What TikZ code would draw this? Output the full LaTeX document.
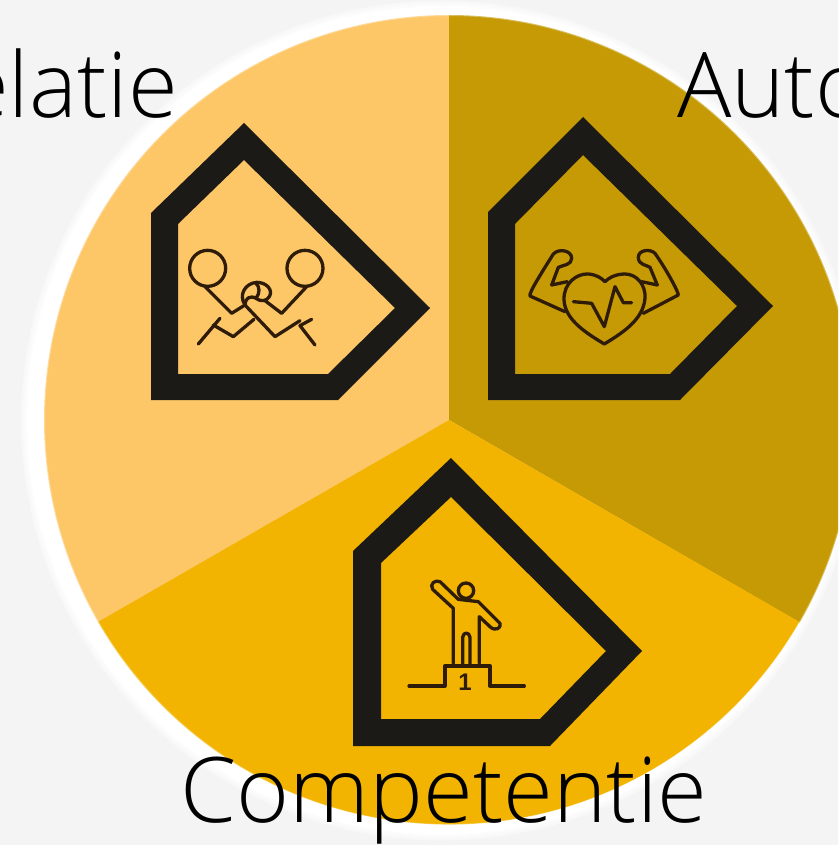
\documentclass[tikz,border=0pt]{standalone}
\usepackage{fontspec}
\setmainfont{Open Sans}[UprightFont={* Light}]
\newfontfamily\iconfont{Liberation Sans}
\definecolor{bg}{HTML}{F4F4F4}
\definecolor{pale}{HTML}{FDC768}
\definecolor{darkgold}{HTML}{C59A05}
\definecolor{midgold}{HTML}{F2B400}
\definecolor{frame}{HTML}{1C1A17}
\definecolor{ink}{HTML}{2E1C08}
\tikzset{
  badge/.style={fill=frame,even odd rule},
  iconline/.style={draw=ink,line width=3.3pt,line join=round,line cap=round},
  word/.style={font=\fontsize{90.5}{90.5}\selectfont,text=black,inner sep=0pt},
  halo/.style={fill=white,opacity=.4}
}
\begin{document}
\begin{tikzpicture}[x=1pt,y=-1pt]
\useasboundingbox (0,0) rectangle (838,845);
\clip (0,0) rectangle (838,845);
\fill[bg] (0,0) rectangle (838,845);
\coordinate (c) at (449,420);
% soft white halo
\fill[halo] (441,420.5) circle (420);
\fill[halo] (441,420.5) circle (418);
\fill[halo] (441,420.5) circle (416);
\fill[white] (441,420.5) circle (414);
% wedges
\fill[pale] (c) -- (449,15) arc[start angle=-90,end angle=-210,radius=405] -- cycle;
\fill[darkgold] (c) -- (449,15) arc[start angle=-90,end angle=30,radius=405] -- cycle;
\fill[midgold] (c) -- (98,622) arc[start angle=150,end angle=30,radius=405] -- cycle;
% soft edge of the disc
\draw[white,opacity=.35,line width=2pt] (c) circle (405);
% badges
\fill[badge] (244,123)--(430,308)--(338,400)--(151,400)--(151,213)--cycle
  (244,160)--(395,308)--(328,374)--(178,374)--(178,224)--cycle;
\fill[badge] (583,117)--(773,306)--(680,400)--(488,400)--(488,212)--cycle
  (583,155)--(737,306)--(670,374)--(515,374)--(515,224)--cycle;
\fill[badge] (451,458)--(642,651)--(550,746)--(353,746)--(353,551)--cycle
  (451,497)--(606,651)--(540,719)--(381,719)--(381,563)--cycle;
% wrestling icon
\begin{scope}[shift={(170,230)},x=.3333pt,y=-.3333pt,iconline]
\draw (113,115) circle[radius=54];
\draw (405,115) circle[radius=54];
\draw (105,170) -- (185,250) -- (225,225);
\draw (410,170) -- (335,250) -- (285,212);
\draw (225,225) .. controls (205,195) and (225,160) .. (260,157) .. controls (290,157) and (310,180) .. (298,200) .. controls (290,215) and (270,215) .. (258,205);
\draw (258,160) .. controls (270,170) and (270,190) .. (258,205) .. controls (240,195) and (225,205) .. (225,225) -- (315,320) -- (390,272);
\draw (85,342) -- (150,265);
\draw (130,285) -- (190,320) -- (252,268);
\draw (425,268) -- (390,287) -- (435,345);
\end{scope}
% muscle heart icon
\begin{scope}[shift={(510,230)},x=.3333pt,y=-.3333pt,iconline]
\draw (283,342) .. controls (230,310) and (165,270) .. (162,210) .. controls (160,160) and (200,130) .. (235,132) .. controls (260,134) and (275,145) .. (285,155) .. controls (295,145) and (315,132) .. (345,132) .. controls (380,132) and (408,165) .. (405,205) .. controls (400,270) and (335,310) .. (283,342) -- cycle;
\draw (190,215) -- (245,220) -- (283,290) -- (315,170) -- (340,218) -- (365,218);
\draw (165,245) -- (60,198) .. controls (55,190) and (100,120) .. (130,72) .. controls (145,55) and (185,60) .. (185,85) .. controls (185,105) and (160,105) .. (145,112) -- (125,165) -- (172,155);
\draw (400,250) -- (505,195) .. controls (505,185) and (470,120) .. (435,70) .. controls (420,55) and (385,60) .. (385,82) .. controls (385,105) and (410,105) .. (420,112) -- (442,165) -- (395,155);
\end{scope}
% podium icon
\begin{scope}[shift={(390,560)},x=.3333pt,y=-.3333pt,iconline]
\draw (228,92) circle[radius=23];
\draw (190,310) -- (190,145) -- (128,88) .. controls (118,72) and (135,58) .. (150,65) -- (205,118) -- (265,125) -- (330,190) .. controls (335,205) and (315,215) .. (300,200) -- (268,170) -- (268,310);
\draw (218,315) -- (218,232) .. controls (220,215) and (238,215) .. (240,232) -- (240,315);
\draw (57,378) -- (165,378) -- (165,318) -- (300,318) -- (300,378) -- (403,378);
\node[inner sep=0pt,text=ink,font=\iconfont\fontsize{24}{24}\selectfont\bfseries] (one) at (225,367) {1};
\end{scope}
% labels
\node[word,anchor=base east] (rel) at (178,118) {Relatie};
\node[word,anchor=base west] (aut) at (677,118) {Autonomie};
\node[word,anchor=base] (com) at (444,822) {Competentie};
\end{tikzpicture}
\end{document}
